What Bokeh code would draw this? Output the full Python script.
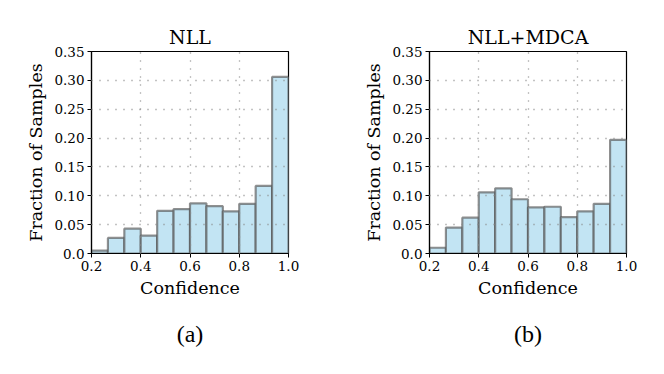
from bokeh.plotting import figure
from bokeh.layouts import row
from bokeh.models import Range1d, FixedTicker, Title
from bokeh.embed import file_html
from bokeh.resources import INLINE

bin_edges = [0.2 + i * 0.8 / 12 for i in range(13)]
nll_vals = [0.005, 0.027, 0.043, 0.031, 0.074, 0.077, 0.087, 0.082, 0.073, 0.086, 0.117, 0.306]
mdca_vals = [0.010, 0.045, 0.062, 0.106, 0.113, 0.094, 0.080, 0.081, 0.063, 0.073, 0.086, 0.197]
x_ticks = [0.2, 0.4, 0.6, 0.8, 1.0]
y_ticks = [0.0, 0.05, 0.10, 0.15, 0.20, 0.25, 0.30, 0.35]
y_labels = ["0.0", "0.05", "0.10", "0.15", "0.20", "0.25", "0.30", "0.35"]
titles = ["NLL", "NLL+MDCA"]
captions = ["(a)", "(b)"]

SERIF = "DejaVu Serif"


def make(vals, title, caption, left, right):
    p = figure(output_backend="svg", toolbar_location=None,
               frame_width=197, frame_height=202,
               min_border_left=left, min_border_right=right,
               min_border_top=51, min_border_bottom=0,
               x_range=Range1d(0.2, 1.0), y_range=Range1d(0.0, 0.35))
    p.title.text = title
    p.title.text_font = SERIF
    p.title.text_font_size = "19px"
    p.title.text_font_style = "normal"
    p.title.text_color = "black"
    p.title.align = "center"
    p.title.standoff = 8
    p.quad(left=bin_edges[:-1], right=bin_edges[1:], bottom=0, top=vals,
           fill_color="#c2e4f3", fill_alpha=1.0,
           line_color="#555555", line_alpha=0.65, line_width=2.2)
    p.xaxis.ticker = FixedTicker(ticks=x_ticks)
    p.yaxis.ticker = FixedTicker(ticks=y_ticks)
    p.xaxis.major_label_overrides = {t: f"{t:.1f}" for t in x_ticks}
    p.yaxis.major_label_overrides = {t: l for t, l in zip(y_ticks, y_labels)}
    for ax in (p.xaxis[0], p.yaxis[0]):
        ax.major_label_text_font = SERIF
        ax.major_label_text_font_size = "13.5px"
        ax.major_label_text_color = "black"
        ax.axis_label_text_font = SERIF
        ax.axis_label_text_font_size = "17.5px"
        ax.axis_label_text_font_style = "normal"
        ax.axis_label_text_color = "black"
        ax.axis_line_color = "black"
        ax.axis_line_width = 1.2
        ax.major_tick_line_color = "black"
        ax.major_tick_out = 4
        ax.major_tick_in = 0
        ax.minor_tick_line_color = None
        ax.major_label_standoff = 3
    p.xaxis.axis_label = "Confidence"
    p.yaxis.axis_label = "Fraction of Samples"
    p.xaxis.axis_label_standoff = 4
    p.yaxis.axis_label_standoff = 5
    for g in (p.xgrid[0], p.ygrid[0]):
        g.grid_line_color = "#888888"
        g.grid_line_dash = "1 7"
        g.grid_line_width = 1.3
        g.level = "overlay"
    p.xgrid.ticker = FixedTicker(ticks=[0.4, 0.6, 0.8])
    p.ygrid.ticker = FixedTicker(ticks=[0.05, 0.10, 0.15, 0.20, 0.25, 0.30])
    p.outline_line_color = "black"
    p.outline_line_width = 1.2
    p.outline_line_alpha = 1
    cap = Title(text=caption, align="center", text_font="Liberation Serif",
                text_font_size="24px", text_font_style="normal",
                text_color="black", standoff=36)
    p.add_layout(cap, "below")
    return p


p1 = make(nll_vals, titles[0], captions[0], 91, 50)
p2 = make(mdca_vals, titles[1], captions[1], 91, 20)
layout = row(p1, p2)
open("out.html", "w").write(file_html(layout, INLINE))
